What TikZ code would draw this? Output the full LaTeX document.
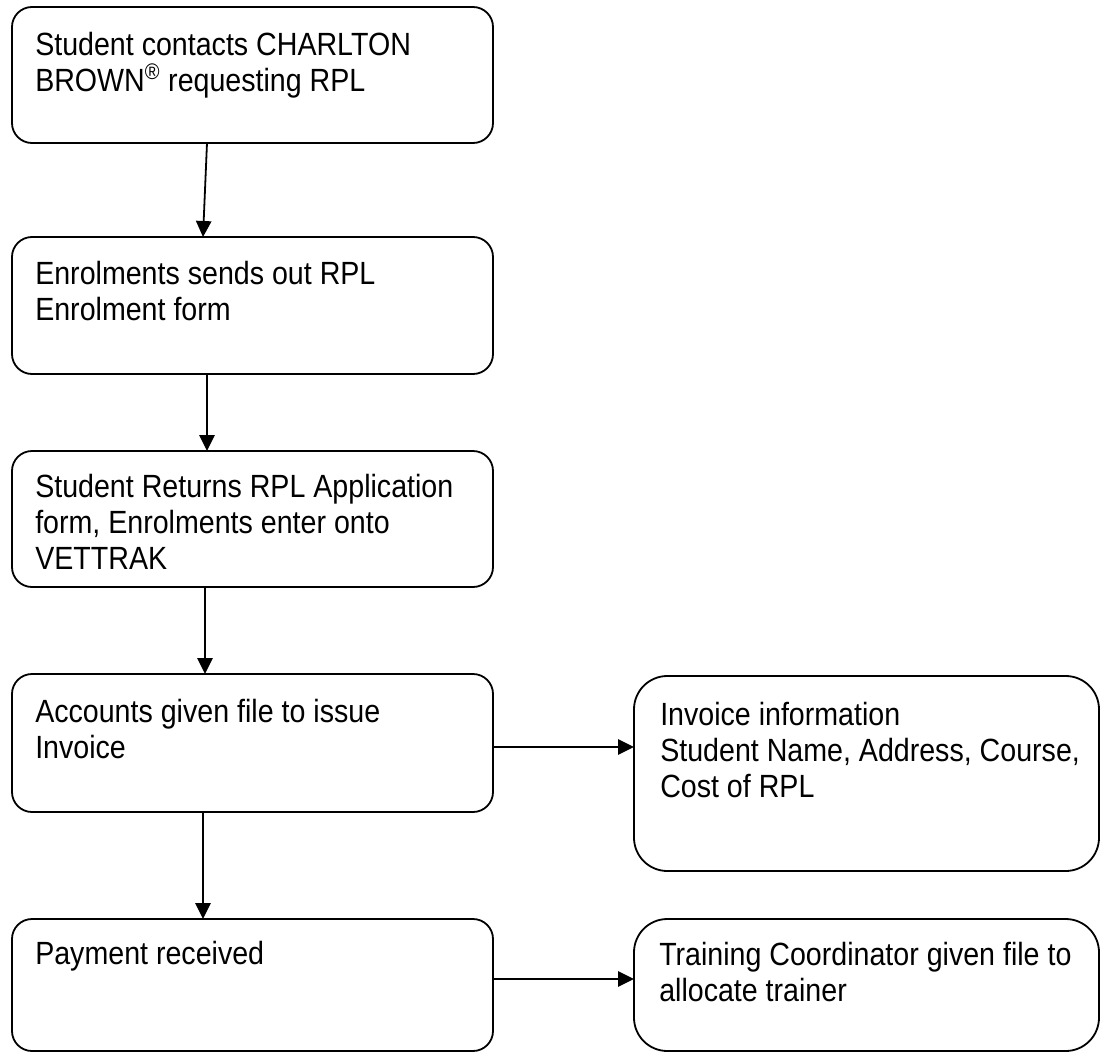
\documentclass[tikz,border=0pt]{standalone}
\usepackage{fontspec}
\setmainfont{Liberation Sans}[FakeStretch=0.89]
\usetikzlibrary{arrows.meta,calc}

\begin{document}
\begin{tikzpicture}[x=0.75pt,y=0.75pt,yscale=-1,
  stepbox/.style={draw,line width=1.35pt,rounded corners=15pt,anchor=north west,inner sep=0pt,outer sep=0pt,minimum width=360.75pt},
  infobox/.style={stepbox,rounded corners=25pt,minimum width=348.75pt},
  steptext/.style={anchor=north west,inner sep=0pt,align=left,font=\fontsize{24.1pt}{27pt}\selectfont},
  flow/.style={line width=1.35pt,-{Triangle[length=12pt,width=11.5pt]}}]
\useasboundingbox (0,0) rectangle (1100,1053);
\node[stepbox,minimum height=102pt] (contact) at (12,7) {};
\node[stepbox,minimum height=102.75pt] (enrol) at (12,237) {};
\node[stepbox,minimum height=102pt] (apply) at (12,451) {};
\node[stepbox,minimum height=103.5pt] (acct) at (12,674) {};
\node[stepbox,minimum height=99pt] (pay) at (12,919) {};
\node[infobox,minimum height=146.25pt] (info) at (634,676) {};
\node[infobox,minimum height=99pt] (train) at (634,919) {};

\node[steptext] (contact-t) at ($(contact.north west)+(23,25)$) {Student contacts CHARLTON\\BROWN\textsuperscript{®} requesting RPL};
\node[steptext] (enrol-t) at ($(enrol.north west)+(23,24)$) {Enrolments sends out RPL\\Enrolment form};
\node[steptext] (apply-t) at ($(apply.north west)+(23,23)$) {Student Returns RPL Application\\form, Enrolments enter onto\\VETTRAK};
\node[steptext] (acct-t) at ($(acct.north west)+(23,25)$) {Accounts given file to issue\\Invoice};
\node[steptext] (pay-t) at ($(pay.north west)+(23,22)$) {Payment received};
\node[steptext] (info-t) at ($(info.north west)+(26,26)$) {Invoice information\\Student Name, Address, Course,\\Cost of RPL};
\node[steptext] (train-t) at ($(train.north west)+(25,23)$) {Training Coordinator given file to\\allocate trainer};

\draw[flow] ($(contact.south west)+(195,0)$) -- ($(enrol.north west)+(191,0)$);
\draw[flow] ($(enrol.south west)+(195,0)$) -- ($(apply.north west)+(195,0)$);
\draw[flow] ($(apply.south west)+(193,0)$) -- ($(acct.north west)+(193,0)$);
\draw[flow] ($(acct.south west)+(191,0)$) -- ($(pay.north west)+(191,0)$);
\draw[flow] ($(acct.north east)+(0,73)$) -- ($(info.north west)+(0,71)$);
\draw[flow] ($(pay.north east)+(0,60)$) -- ($(train.north west)+(0,60)$);
\end{tikzpicture}
\end{document}
